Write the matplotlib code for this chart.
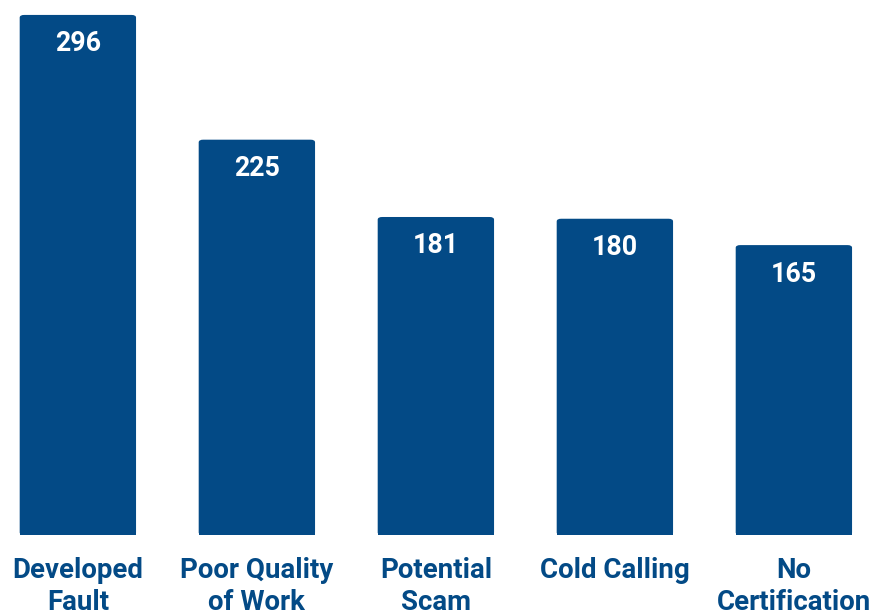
import matplotlib
matplotlib.use('Agg')
import matplotlib.pyplot as plt
from matplotlib.patches import FancyBboxPatch

categories = ['Developed\nFault', 'Poor Quality\nof Work', 'Potential\nScam', 'Cold Calling', 'No\nCertification']
values = [296, 225, 181, 180, 165]

blue = '#034a86'
plt.rcParams['font.family'] = ['Roboto', 'DejaVu Sans']

fig = plt.figure(figsize=(8.73, 6.13), dpi=100)
ax = fig.add_axes([0, 78 / 613, 1, 535 / 613])

x = list(range(len(values)))
bars = ax.bar(x, values, width=0.65, color=blue)

# swap plain bars for ones with slightly rounded corners
for b in bars:
    b.set_visible(False)
    p = FancyBboxPatch((b.get_x(), 0), b.get_width(), b.get_height(),
                       boxstyle='round,pad=0,rounding_size=0.025',
                       mutation_aspect=60, color=blue, lw=0)
    ax.add_patch(p)
    ax.add_patch(FancyBboxPatch((b.get_x(), 0), b.get_width(), b.get_height() / 2,
                                boxstyle='square,pad=0', color=blue, lw=0))

for xi, v in zip(x, values):
    ax.text(xi, v - 16.5, str(v), ha='center', va='center', color='white',
            fontsize=19.3, fontweight='bold')

ax.set_xlim(-0.435, 4.442)
ax.set_ylim(0, 304.5)
ax.set_xticks(x)
ax.set_xticklabels(categories, fontsize=19.9, fontweight='bold', color=blue, linespacing=1.22)
ax.tick_params(axis='x', length=0, pad=16)
ax.set_yticks([])
for s in ax.spines.values():
    s.set_visible(False)

fig.savefig('out.png', dpi=100)
